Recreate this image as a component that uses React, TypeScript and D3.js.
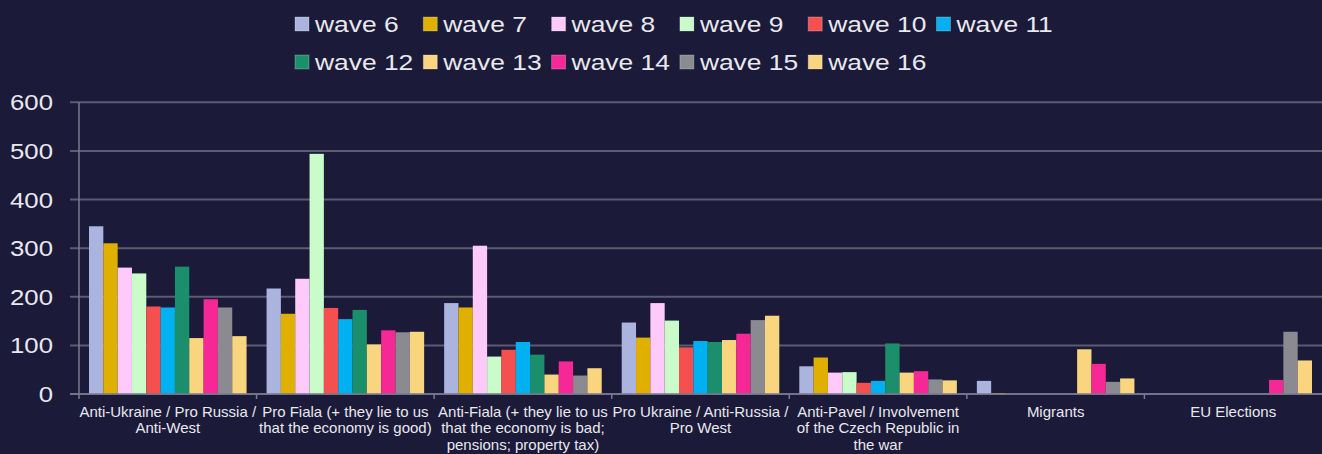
import React from "react";
import * as d3 from "d3";

// Categories of narratives (line breaks mark how each label wraps under the axis)
const categories: string[] = [
  "Anti-Ukraine / Pro Russia /\nAnti-West",
  "Pro Fiala (+ they lie to us\nthat the economy is good)",
  "Anti-Fiala (+ they lie to us\nthat the economy is bad;\npensions; property tax)",
  "Pro Ukraine / Anti-Russia /\nPro West",
  "Anti-Pavel / Involvement\nof the Czech Republic in\nthe war",
  "Migrants",
  "EU Elections",
];

const waves: string[] = [
  "wave 6", "wave 7", "wave 8", "wave 9", "wave 10", "wave 11",
  "wave 12", "wave 13", "wave 14", "wave 15", "wave 16",
];

// Counts per category, one array per wave
const wave6 = [345, 217, 187, 147, 57, 27, 0];
const wave7 = [310, 165, 178, 116, 75, 2, 0];
const wave8 = [260, 237, 305, 187, 44, 0, 0];
const wave9 = [248, 494, 77, 151, 45, 0, 0];
const wave10 = [180, 177, 91, 96, 23, 0, 0];
const wave11 = [178, 154, 107, 109, 27, 0, 0];
const wave12 = [262, 173, 81, 107, 104, 0, 0];
const wave13 = [115, 102, 40, 111, 44, 92, 0];
const wave14 = [195, 131, 67, 124, 47, 62, 29];
const wave15 = [178, 127, 38, 152, 30, 25, 128];
const wave16 = [119, 128, 53, 161, 28, 32, 69];

const seriesValues = [wave6, wave7, wave8, wave9, wave10, wave11, wave12, wave13, wave14, wave15, wave16];

const colors = [
  "#aab4de", "#e0b000", "#ffc9fa", "#c9fcc9", "#f5504f", "#00b0f0",
  "#1b8f6b", "#fad57f", "#f52896", "#8a8a90", "#fad57f",
];

const yTicks = [0, 100, 200, 300, 400, 500, 600];

const W = 1322;
const H = 454;
const BG = "#1b1a39";
const TEXT = "#e8e8ee";
const GRID = "#5b5b72";
const FONT = "'Liberation Sans', Arial, sans-serif";

export default function App() {
  const plotLeft = 79;
  const plotRight = W;
  const y0 = 394;
  const yTop = 102.3;

  const x0 = d3.scaleBand<string>().domain(categories).range([plotLeft, plotRight]);
  const x1 = d3
    .scaleBand<string>()
    .domain(waves)
    .range([10, x0.bandwidth() - 10]);
  const y = d3.scaleLinear().domain([0, 600]).range([y0, yTop]);

  const legendX = d3.scaleLinear().domain([0, 1]).range([295, 295 + 128.3]);
  const legendRowY = [17, 55];

  return (
    <svg
      width={W}
      height={H}
      style={{ position: "absolute", left: 0, top: 0, background: BG, display: "block" }}
    >
      <rect x={0} y={0} width={W} height={H} fill={BG} />

      {/* gridlines and y labels */}
      {yTicks.map((t) => (
        <g key={t}>
          <line x1={70} x2={plotRight} y1={y(t)} y2={y(t)} stroke={GRID} strokeWidth={2} />
          <text
            transform={`translate(53,${y(t) + 8}) scale(1.12,1)`}
            textAnchor="end"
            fontFamily={FONT}
            fontSize={23}
            fill={TEXT}
          >
            {t}
          </text>
        </g>
      ))}

      {/* value axis line */}
      <line x1={plotLeft} x2={plotLeft} y1={yTop} y2={y0} stroke="#7a7a90" strokeWidth={1.5} />

      {/* category ticks */}
      {categories.map((c, i) => (
        <line
          key={"t" + i}
          x1={(x0(c) as number) + (i === 0 ? 0 : 0)}
          x2={x0(c) as number}
          y1={y0}
          y2={y0 + 5}
          stroke="#7a7a90"
          strokeWidth={1.5}
        />
      ))}

      {/* bars */}
      {categories.map((c, ci) => (
        <g key={"g" + ci} transform={`translate(${x0(c)},0)`}>
          {waves.map((w, wi) => {
            const v = seriesValues[wi][ci];
            if (!v) return null;
            return (
              <rect
                key={w}
                x={x1(w) as number}
                y={y(v)}
                width={x1.bandwidth()}
                height={y0 - y(v)}
                fill={colors[wi]}
              />
            );
          })}
        </g>
      ))}

      {/* category axis line */}
      <line x1={70} x2={plotRight} y1={y0} y2={y0} stroke="#7a7a90" strokeWidth={1.5} />

      {/* category labels */}
      {categories.map((c, ci) => {
        const cx = (x0(c) as number) + x0.bandwidth() / 2;
        return (
          <text
            key={"l" + ci}
            textAnchor="middle"
            fontFamily={FONT}
            fontSize={15}
            fill={TEXT}
          >
            {c.split("\n").map((line, li) => (
              <tspan key={li} x={cx} y={416.7 + li * 16.7}>
                {line}
              </tspan>
            ))}
          </text>
        );
      })}

      {/* legend */}
      {waves.map((w, i) => {
        const col = i % 6;
        const row = Math.floor(i / 6);
        const lx = legendX(col);
        const ly = legendRowY[row];
        return (
          <g key={"lg" + i}>
            <rect x={lx} y={ly} width={14} height={14} fill={colors[i]} stroke="#ffffff" strokeOpacity={0.25} strokeWidth={1} />
            <text
              transform={`translate(${lx + 20},${ly + 15}) scale(1.2,1)`}
              fontFamily={FONT}
              fontSize={22}
              fill={TEXT}
            >
              {w}
            </text>
          </g>
        );
      })}
    </svg>
  );
}
